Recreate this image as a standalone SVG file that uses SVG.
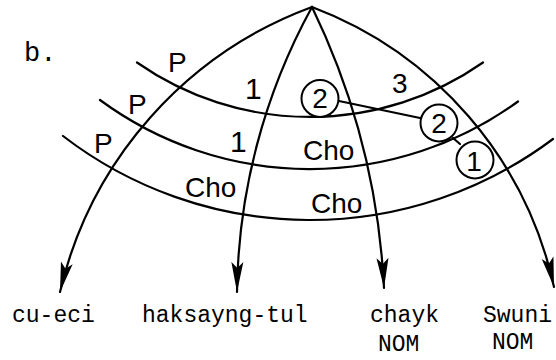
<svg xmlns="http://www.w3.org/2000/svg" width="556" height="360" viewBox="0 0 556 360">
<defs>
<marker id="arr" markerUnits="userSpaceOnUse" markerWidth="32" markerHeight="14" viewBox="0 0 32 14" refX="30" refY="7" orient="auto">
<path d="M30,7 L0,1 L6,7 L0,13 Z" fill="#000"/>
</marker>
</defs>
<style>
.ln{fill:none;stroke:#000;stroke-width:2.2;stroke-linecap:round}
.circ{fill:#fff;stroke:#000;stroke-width:2}
.sans{font-family:"Liberation Sans",Arial,sans-serif;font-size:28px;fill:#000}
.one{font-family:"Liberation Sans",Arial,sans-serif;font-size:30px;fill:#000}
.mono{font-family:"Liberation Mono","Courier New",monospace;font-size:23px;fill:#000}
.nom{font-family:"Liberation Mono","Courier New",monospace;font-size:23px;fill:#000}
.cn{text-anchor:middle}
</style>
<rect width="556" height="360" fill="#fff"/>
<text class="mono" x="24" y="61" style="font-size:27px">b.</text>
<g id="connectors">
<path class="ln" d="M137,62.5 A302,302 0 0,0 483,62.5"/>
<path class="ln" d="M100,100 A354,354 0 0,0 518,101.5"/>
<path class="ln" d="M63,136 A405,405 0 0,0 553,139"/>
<path class="ln" marker-end="url(#arr)" d="M312,7 A401,401 0 0,0 60,292"/>
<path class="ln" marker-end="url(#arr)" d="M312,7 A607,607 0 0,0 237,292"/>
<path class="ln" marker-end="url(#arr)" d="M312,7 A728,728 0 0,1 384,288"/>
<path class="ln" marker-end="url(#arr)" d="M312,7 A388,388 0 0,1 554,287"/>
<path class="ln" d="M339,101 L420,118"/>
<path class="ln" d="M453,138 L460,144"/>
</g>
<g id="circle-2a"><circle class="circ" cx="320" cy="98.5" r="18.5"/><text class="sans cn" x="320" y="108">2</text></g>
<g id="circle-2b"><circle class="circ" cx="439" cy="123" r="18.5"/><text class="sans cn" x="439" y="132.5">2</text></g>
<g id="circle-1"><circle class="circ" cx="475" cy="160" r="18.5"/><text class="sans cn" x="474" y="170.5">1</text></g>
<g id="labels">
<text class="sans" x="168" y="72">P</text>
<text class="sans" x="128" y="114">P</text>
<text class="sans" x="94" y="153">P</text>
<text class="one" x="245" y="99">1</text>
<text class="one" x="230" y="152">1</text>
<text class="sans" x="392" y="93">3</text>
<text class="sans" x="303" y="160">Cho</text>
<text class="sans" x="185" y="197">Cho</text>
<text class="sans" x="311" y="213">Cho</text>
</g>
<g id="node-cu-eci"><text class="mono" x="12" y="322">cu-eci</text></g>
<g id="node-haksayng-tul"><text class="mono" x="142" y="322">haksayng-tul</text></g>
<g id="node-chayk"><text class="mono" x="378" y="351">NOM</text><text class="mono" x="370" y="322">chayk</text></g>
<g id="node-swuni"><text class="mono" x="483" y="322">Swuni</text><text class="nom" x="492" y="349">NOM</text></g>
</svg>
